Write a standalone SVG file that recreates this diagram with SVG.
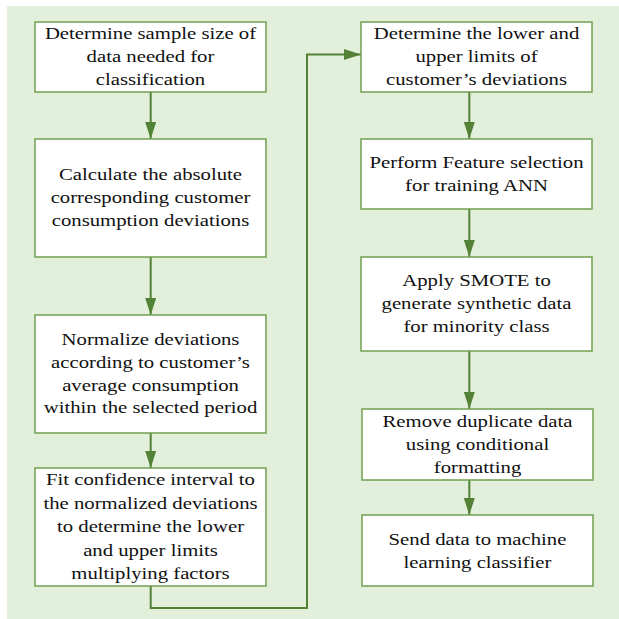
<svg xmlns="http://www.w3.org/2000/svg" width="619" height="619" viewBox="0 0 619 619">
<defs>
<marker id="ah" markerWidth="17" markerHeight="11" refX="17" refY="5.5" orient="auto" markerUnits="userSpaceOnUse">
<path d="M0,0 L17,5.5 L0,11 Z" fill="#538135"/>
</marker>
</defs>
<style>
.box{fill:#ffffff;stroke:#70a050;stroke-width:1.5}
.t{font-family:"Liberation Serif","Times New Roman",serif;font-size:17px;fill:#111;text-anchor:middle}
.c{fill:none;stroke:#538135;stroke-width:2;marker-end:url(#ah)}
</style>
<rect x="7" y="6" width="612" height="613" fill="#e2efda"/>
<g id="connectors">
<path class="c" d="M150.7,92 V139"/>
<path class="c" d="M150.7,257 V315"/>
<path class="c" d="M150.7,433 V468"/>
<path class="c" d="M150.7,586 V608 H307 V54.5 H361"/>
<path class="c" d="M469.3,92 V139"/>
<path class="c" d="M469.3,209 V257"/>
<path class="c" d="M469.3,351 V409"/>
<path class="c" d="M469.3,480 V515"/>
</g>
<g id="n1"><rect class="box" x="35" y="22" width="231" height="70"/>
<text class="t" transform="translate(150.5,0) scale(1.22,1)"><tspan x="0" y="39.5">Determine sample size of</tspan><tspan x="0" y="62.2">data needed for</tspan><tspan x="0" y="84.8">classification</tspan></text></g>
<g id="n2"><rect class="box" x="35" y="139" width="231" height="118"/>
<text class="t" transform="translate(150.5,0) scale(1.22,1)"><tspan x="0" y="180.5">Calculate the absolute</tspan><tspan x="0" y="203.2">corresponding customer</tspan><tspan x="0" y="225.9">consumption deviations</tspan></text></g>
<g id="n3"><rect class="box" x="35" y="315" width="231" height="118"/>
<text class="t" transform="translate(150.5,0) scale(1.22,1)"><tspan x="0" y="345.2">Normalize deviations</tspan><tspan x="0" y="367.9">according to customer’s</tspan><tspan x="0" y="390.6">average consumption</tspan><tspan x="0" y="413.3">within the selected period</tspan></text></g>
<g id="n4"><rect class="box" x="35" y="468" width="231" height="118"/>
<text class="t" transform="translate(150.5,0) scale(1.22,1)"><tspan x="0" y="485.5">Fit confidence interval to</tspan><tspan x="0" y="509">the normalized deviations</tspan><tspan x="0" y="532.5">to determine the lower</tspan><tspan x="0" y="556">and upper limits</tspan><tspan x="0" y="579.5">multiplying factors</tspan></text></g>
<g id="n5"><rect class="box" x="361" y="22" width="231" height="70"/>
<text class="t" transform="translate(476.5,0) scale(1.22,1)"><tspan x="0" y="39.5">Determine the lower and</tspan><tspan x="0" y="62.2">upper limits of</tspan><tspan x="0" y="84.8">customer’s deviations</tspan></text></g>
<g id="n6"><rect class="box" x="361" y="139" width="231" height="70"/>
<text class="t" transform="translate(476.5,0) scale(1.22,1)"><tspan x="0" y="168.2">Perform Feature selection</tspan><tspan x="0" y="191">for training ANN</tspan></text></g>
<g id="n7"><rect class="box" x="361" y="257" width="231" height="94"/>
<text class="t" transform="translate(476.5,0) scale(1.22,1)"><tspan x="0" y="286">Apply SMOTE to</tspan><tspan x="0" y="309">generate synthetic data</tspan><tspan x="0" y="332">for minority class</tspan></text></g>
<g id="n8"><rect class="box" x="362" y="409" width="231" height="71"/>
<text class="t" transform="translate(477.5,0) scale(1.22,1)"><tspan x="0" y="426.8">Remove duplicate data</tspan><tspan x="0" y="450">using conditional</tspan><tspan x="0" y="473.5">formatting</tspan></text></g>
<g id="n9"><rect class="box" x="362" y="515" width="231" height="71"/>
<text class="t" transform="translate(477.5,0) scale(1.22,1)"><tspan x="0" y="545">Send data to machine</tspan><tspan x="0" y="568.2">learning classifier</tspan></text></g>
</svg>
